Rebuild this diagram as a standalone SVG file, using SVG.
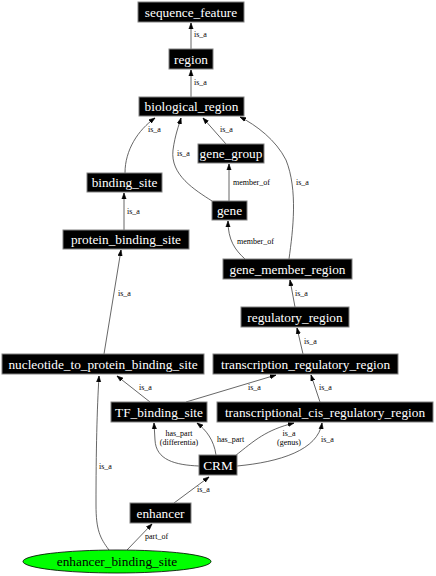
<svg xmlns="http://www.w3.org/2000/svg" width="436" height="576" viewBox="0 0 436 576">
<style>
.n rect{fill:#000;stroke:#808080;stroke-width:1}
.n text{fill:#fff;font-family:"Liberation Serif",serif;font-size:13.3px;text-anchor:middle}
.e path{fill:none;stroke:#404040;stroke-width:0.8;marker-end:url(#ah)}
.l{font-family:"Liberation Serif",serif;font-size:8px;fill:#000}
.c{text-anchor:middle}
</style>
<defs>
<marker id="ah" markerUnits="userSpaceOnUse" markerWidth="8" markerHeight="8" viewBox="0 0 8 8" refX="6" refY="4" orient="auto">
<path d="M0,1.9 L6,4 L0,6.1 Z" fill="#000" stroke="#000" stroke-width="0.6"/>
</marker>
</defs>
<g id="edges" class="e">
<path d="M191,49 L191,23"/>
<path d="M191,97 L191,70"/>
<path d="M125,173 C125,150 138,130 155,118"/>
<path d="M212,201 C195,190 170,175 173,150 C175,135 179,125 181,118"/>
<path d="M226,144 L203,118"/>
<path d="M229,201 L229,164"/>
<path d="M245,259 C235,250 228,240 228,221"/>
<path d="M289,259 C293,230 298,190 286,160 C276,140 256,125 240,117"/>
<path d="M124,230 L124,193"/>
<path d="M104,354 L121,250"/>
<path d="M295,307 L290,280"/>
<path d="M303,354 L297,328"/>
<path d="M150,402 L117,376"/>
<path d="M186,402 L276,375"/>
<path d="M320,402 L311,375"/>
<path d="M109,550 C100,538 96,530 96,505 C96,450 97,410 99,376"/>
<path d="M199,466 C175,465 156,460 155,440 L154,423"/>
<path d="M216,455 C214,440 206,430 197,423"/>
<path d="M235,456 C255,440 266,430 294,423"/>
<path d="M237,466 C280,462 318,450 322,423"/>
<path d="M174,503 L209,477"/>
<path d="M127,550 L152,524"/>
</g>
<g id="edge-labels" class="l">
<text x="194" y="37">is_a</text>
<text x="194" y="85">is_a</text>
<text x="148" y="132">is_a</text>
<text x="177" y="156">is_a</text>
<text x="220" y="132">is_a</text>
<text x="233" y="185">member_of</text>
<text x="296" y="185">is_a</text>
<text x="127" y="214">is_a</text>
<text x="237" y="244">member_of</text>
<text x="118" y="296">is_a</text>
<text x="295" y="296">is_a</text>
<text x="304" y="344">is_a</text>
<text x="139" y="390">is_a</text>
<text x="248" y="390">is_a</text>
<text x="319" y="390">is_a</text>
<text class="c" x="179" y="436">has_part</text>
<text class="c" x="179" y="445">(differentia)</text>
<text x="217" y="442">has_part</text>
<text class="c" x="289" y="436">is_a</text>
<text class="c" x="289" y="445">(genus)</text>
<text x="321" y="442">is_a</text>
<text x="99" y="469">is_a</text>
<text x="197" y="492">is_a</text>
<text x="145" y="539">part_of</text>
</g>
<g id="sequence_feature" class="n"><rect x="138" y="2" width="106" height="20"/><text x="191" y="16.5">sequence_feature</text></g>
<g id="region" class="n"><rect x="169" y="49" width="44" height="20"/><text x="191" y="63.5">region</text></g>
<g id="biological_region" class="n"><rect x="139" y="97" width="105" height="19"/><text x="191.5" y="111">biological_region</text></g>
<g id="gene_group" class="n"><rect x="198" y="144" width="66" height="19"/><text x="231" y="158">gene_group</text></g>
<g id="binding_site" class="n"><rect x="87" y="173" width="75" height="19"/><text x="124.5" y="187">binding_site</text></g>
<g id="gene" class="n"><rect x="212" y="201" width="35" height="19"/><text x="229.5" y="215">gene</text></g>
<g id="protein_binding_site" class="n"><rect x="63" y="230" width="126" height="19"/><text x="126" y="244">protein_binding_site</text></g>
<g id="gene_member_region" class="n"><rect x="223" y="259" width="129" height="20"/><text x="287.5" y="273.5">gene_member_region</text></g>
<g id="regulatory_region" class="n"><rect x="241" y="307" width="108" height="20"/><text x="295" y="321.5">regulatory_region</text></g>
<g id="nucleotide_to_protein_binding_site" class="n"><rect x="2" y="354" width="202" height="20"/><text x="103" y="368.5">nucleotide_to_protein_binding_site</text></g>
<g id="transcription_regulatory_region" class="n"><rect x="213" y="354" width="185" height="20"/><text x="305.5" y="368.5">transcription_regulatory_region</text></g>
<g id="TF_binding_site" class="n"><rect x="111" y="402" width="96" height="20"/><text x="159" y="416.5">TF_binding_site</text></g>
<g id="transcriptional_cis_regulatory_region" class="n"><rect x="217" y="402" width="216" height="20"/><text x="325" y="416.5">transcriptional_cis_regulatory_region</text></g>
<g id="CRM" class="n"><rect x="199" y="455" width="38" height="20"/><text x="218" y="469.5">CRM</text></g>
<g id="enhancer" class="n"><rect x="130" y="503" width="61" height="20"/><text x="160.5" y="517.5">enhancer</text></g>
<g id="enhancer_binding_site"><ellipse cx="117" cy="561.5" rx="94" ry="11.5" fill="#00ff00" stroke="#000" stroke-width="0.8"/><text x="117" y="566" font-family="Liberation Serif, serif" font-size="13.3px" text-anchor="middle" fill="#000">enhancer_binding_site</text></g>
</svg>
